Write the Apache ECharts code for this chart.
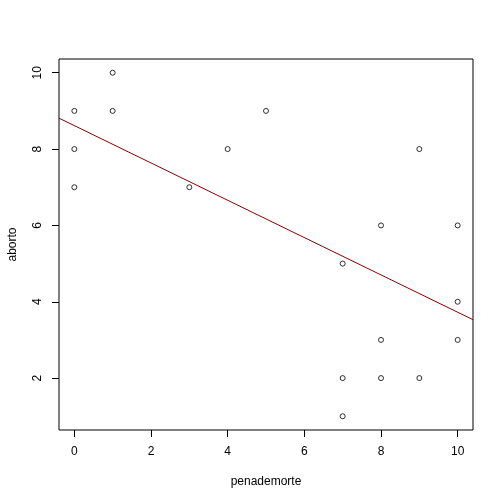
<!DOCTYPE html>
<html>
<head>
<meta charset="utf-8">
<script src="https://cdn.jsdelivr.net/npm/echarts@6/dist/echarts.min.js"></script>
<style>
  html, body { margin: 0; padding: 0; background: #fff; }
  #chart { width: 504px; height: 504px; }
</style>
</head>
<body>
<div id="chart"></div>
<script>
// penademorte (x) vs aborto (y)
const penademorte = [0, 0, 0, 1, 1, 3, 4, 5, 7, 7, 7, 8, 8, 8, 9, 9, 10, 10, 10];
const aborto = [9, 8, 7, 10, 9, 7, 8, 9, 5, 2, 1, 6, 3, 2, 8, 2, 6, 4, 3];
// fitted line, read at the left and right edges of the plot box
const lineX = [-0.4, 10.4];
const lineY = [8.81, 3.53];
const xTicks = [0, 2, 4, 6, 8, 10];
const yTicks = [2, 4, 6, 8, 10];

const chart = echarts.init(document.getElementById("chart"));
const font = "Liberation Sans, Arial, sans-serif";

chart.setOption({
  animation: false,
  backgroundColor: "#fff",
  grid: {
    left: 59,
    right: 31,
    top: 59,
    bottom: 74,
    containLabel: false,
    outerBoundsMode: "none",
    show: true,
    borderColor: "#000",
    borderWidth: 1,
    backgroundColor: "transparent",
  },
  xAxis: {
    type: "value",
    min: -0.4,
    max: 10.4,
    name: "penademorte",
    nameLocation: "middle",
    nameGap: 46,
    nameTextStyle: { color: "#000", fontSize: 12, fontFamily: font },
    splitLine: { show: false },
    axisLine: { show: false, onZero: false },
    axisTick: {
      show: true,
      length: 7,
      lineStyle: { color: "#000" },
      customValues: xTicks,
    },
    axisLabel: {
      color: "#000",
      fontSize: 12,
      fontFamily: font,
      margin: 16,
      customValues: xTicks,
    },
  },
  yAxis: {
    type: "value",
    min: 0.64,
    max: 10.36,
    name: "aborto",
    nameLocation: "middle",
    nameGap: 40,
    nameRotate: 90,
    nameTextStyle: { color: "#000", fontSize: 12, fontFamily: font },
    splitLine: { show: false },
    axisLine: { show: false, onZero: false },
    axisTick: {
      show: true,
      length: 7,
      lineStyle: { color: "#000" },
      customValues: yTicks,
    },
    axisLabel: {
      color: "#000",
      fontSize: 12,
      fontFamily: font,
      rotate: 90,
      margin: 15,
      customValues: yTicks,
    },
  },
  series: [
    {
      type: "scatter",
      data: penademorte.map((x, i) => [x, aborto[i]]),
      symbol: "circle",
      symbolSize: 5,
      itemStyle: {
        color: "rgba(255,255,255,0)",
        borderColor: "#000",
        borderWidth: 1,
      },
    },
    {
      type: "line",
      data: lineX.map((x, i) => [x, lineY[i]]),
      showSymbol: false,
      lineStyle: { color: "#8B0000", width: 1 },
    },
  ],
});
</script>
</body>
</html>
